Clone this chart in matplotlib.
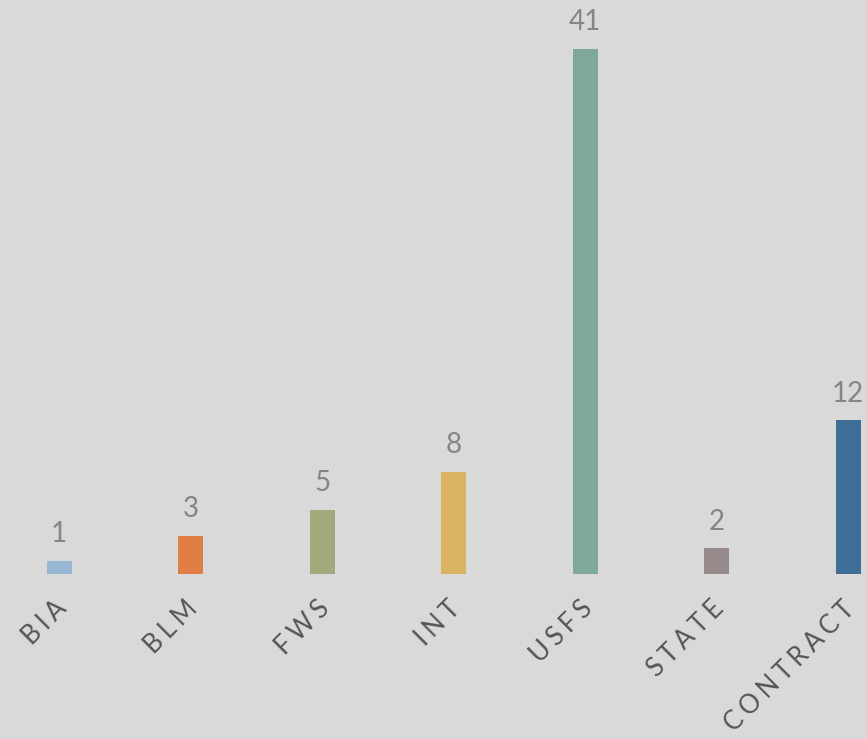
import matplotlib
matplotlib.use("Agg")
import matplotlib.pyplot as plt

categories = ["BIA", "BLM", "FWS", "INT", "USFS", "STATE", "CONTRACT"]
values = [1, 3, 5, 8, 41, 2, 12]
colors = ["#97b6d3", "#e07f45", "#a3a97d", "#d9b360", "#7ea89c", "#968b8a", "#3e6d95"]

bg = "#d9d9d9"
fig = plt.figure(figsize=(8.67, 7.39), dpi=100, facecolor=bg)
ax = fig.add_axes([0, 165/739, 1, 1 - 165/739])
ax.set_facecolor(bg)

x = list(range(len(categories)))
ax.bar(x, values, width=0.19, color=colors)
ax.set_xlim(-0.449, 6.144)
ax.set_ylim(0, 44.84)

fam = ["Lato", "DejaVu Sans"]
for xi, v in zip(x, values):
    ax.annotate(str(v), (xi, v), xytext=(0, 13.5), textcoords="offset points",
                ha="center", va="baseline", fontsize=20, color="#858585",
                family=fam)

ax.set_xticks(x)
ax.set_xticklabels([])
ax.tick_params(length=0)
for xi, c in zip(x, categories):
    spaced = "\u2009\u200a".join(c)
    ax.annotate(spaced, (xi, 0), xytext=(-4, -16), textcoords="offset points",
                ha="right", va="top", rotation=45, rotation_mode="anchor",
                fontsize=18.5, color="#555555", family=fam,
                annotation_clip=False)

for s in ax.spines.values():
    s.set_visible(False)
ax.set_yticks([])

fig.savefig("out.png", dpi=100, facecolor=bg)
